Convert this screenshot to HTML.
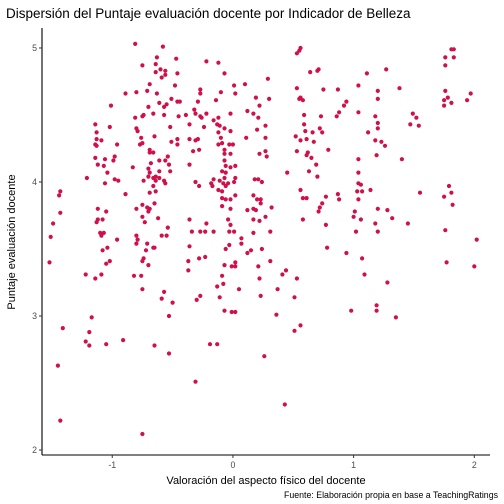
<!DOCTYPE html>
<html><head><meta charset="utf-8">
<style>
body{margin:0;background:#fff;}
svg{display:block;font-family:"Liberation Sans",sans-serif;}
</style></head>
<body>
<svg id="chart" width="504" height="504" viewBox="0 0 504 504">
<rect width="504" height="504" fill="#fff"/>
<text x="6" y="18" font-size="13.5" fill="#000">Dispersión del Puntaje evaluación docente por Indicador de Belleza</text>
<text transform="translate(15,242) rotate(-90)" text-anchor="middle" font-size="11" fill="#000">Puntaje evaluación docente</text>
<text x="266" y="484" text-anchor="middle" font-size="11" fill="#000">Valoración del aspecto físico del docente</text>
<text x="498" y="498" text-anchor="end" font-size="8.8" fill="#000">Fuente: Elaboración propia en base a TeachingRatings</text>
<g id="points"></g>
<g id="axes"></g>
</svg>
<script>
const xTicks=[-1,0,1,2];
const yTicks=[2,3,4,5];
const xTickLabels=["-1","0","1","2"];
const yTickLabels=["2","3","4","5"];
const beauty=[-0.81,-0.58,-0.63,-0.47,-0.75,-0.64,-0.60,-0.56,-0.64,-0.56,-0.46,-0.59,-0.22,-0.12,-0.07,-0.69,-0.48,-0.89,-0.80,-0.71,-0.63,-0.27,-0.27,-0.10,0.01,0.10,0.02,0.19,-1.01,-0.51,-0.61,-0.55,-0.57,-0.70,-0.46,-0.44,-0.29,-0.14,-0.32,-0.31,-0.22,-0.27,-0.26,-0.39,-0.45,-0.57,-0.66,-0.74,-0.75,-0.81,-0.02,-0.12,-0.16,0.12,0.17,0.22,0.21,-1.14,-1.02,-1.13,-0.80,-0.79,-0.52,-0.36,-0.24,-0.13,-0.11,-0.07,-0.02,-0.12,0.20,-1.13,-1.09,-0.76,-0.65,-0.46,-0.51,-0.46,-0.36,-0.31,-0.29,-0.10,0.11,-1.14,-1.13,-0.96,-0.77,-0.75,-0.12,-0.09,-0.03,0.00,-0.69,-0.69,-0.66,-0.33,-0.28,-0.07,-0.07,-0.02,0.22,-1.14,-1.06,-0.99,-0.98,-0.61,-0.56,-0.54,-0.07,-0.06,-1.12,-1.07,-0.83,-0.68,-0.53,-0.36,-0.02,0.02,-1.04,-0.70,-0.69,-0.61,-0.52,-0.09,-0.06,-1.21,-1.06,-0.98,-0.95,-0.74,-0.70,-0.66,-0.64,-0.61,-0.64,-0.57,-0.56,-0.66,-0.31,-0.28,-0.18,-0.17,-0.16,-0.11,-0.08,-0.07,-0.06,-0.04,0.01,0.02,0.18,0.21,-0.69,-0.64,-0.89,-1.44,-1.43,-0.12,-0.09,0.02,0.17,-0.09,-0.06,-0.02,0.20,-0.75,-0.71,-0.69,-0.65,-0.70,-1.12,-1.05,-0.80,-0.09,-0.02,0.12,0.17,0.19,-1.43,-0.75,-0.62,-0.36,-0.04,0.17,0.22,-1.12,-1.13,-1.08,-1.49,-0.73,-0.22,-0.02,-0.54,-1.51,-1.10,-1.09,-1.07,-0.96,-0.80,-0.79,-0.59,-0.55,-0.34,-0.27,-0.23,-0.16,-0.03,0.01,0.17,0.07,0.07,-0.80,-0.71,
0.56,0.55,0.53,1.81,1.83,1.76,1.83,1.76,0.64,0.70,0.71,1.27,1.11,0.29,0.53,0.75,0.87,1.04,1.20,1.38,1.76,1.97,0.30,0.55,0.56,0.58,1.20,1.75,1.78,1.81,1.94,1.75,0.94,0.92,0.59,0.73,0.86,0.88,1.04,1.18,1.49,1.52,0.27,0.59,1.20,1.47,1.54,0.60,0.66,0.72,0.74,1.20,1.12,0.27,0.52,0.56,0.61,0.67,1.18,1.23,1.26,0.27,0.28,0.53,0.62,0.61,0.79,0.65,1.19,1.04,1.40,0.69,0.45,0.63,0.70,1.04,0.24,1.04,1.06,0.56,1.03,1.07,1.14,0.87,1.55,1.79,1.81,1.75,0.23,0.23,0.58,0.61,0.77,0.88,1.04,1.82,0.74,0.32,0.72,0.71,1.01,1.20,1.28,0.27,0.58,1.00,1.06,1.32,0.77,1.18,1.45,0.31,1.02,1.20,1.76,2.02,
-1.08,-1.04,-0.72,-0.66,-0.65,-0.36,-0.06,-0.03,-1.52,-1.05,-1.02,-0.75,-0.74,-0.70,-0.37,-0.28,-0.23,-0.07,-0.01,0.02,0.02,0.12,0.15,0.21,-1.22,-1.14,-1.09,-0.82,-0.76,-0.37,-0.09,0.22,-0.75,-0.57,-0.08,-0.13,0.05,-0.59,-0.50,-0.30,-0.27,-0.11,-0.07,-0.01,0.02,-0.53,-1.17,-1.41,-1.19,-1.22,-1.19,-1.05,-0.91,-0.65,-0.19,-0.13,-0.53,-1.45,-0.31,-1.43,-0.75,
0.24,0.78,0.94,1.07,0.31,0.44,0.41,0.53,1.09,1.28,0.37,0.23,0.51,1.77,2.00,1.19,1.19,0.98,1.35,0.36,0.56,0.51,0.26,0.43];
const evals=[5.03,5.01,4.93,4.92,4.87,4.88,4.84,4.83,4.82,4.80,4.81,4.78,4.90,4.89,4.81,4.73,4.72,4.66,4.67,4.68,4.66,4.69,4.66,4.67,4.72,4.73,4.66,4.63,4.57,4.62,4.59,4.58,4.56,4.56,4.60,4.60,4.60,4.61,4.54,4.51,4.51,4.49,4.48,4.50,4.49,4.50,4.51,4.50,4.49,4.48,4.51,4.48,4.46,4.53,4.51,4.57,4.48,4.43,4.41,4.37,4.40,4.38,4.41,4.43,4.41,4.43,4.42,4.40,4.38,4.37,4.39,4.32,4.31,4.33,4.34,4.32,4.30,4.28,4.32,4.31,4.32,4.33,4.33,4.28,4.27,4.28,4.28,4.29,4.28,4.29,4.28,4.28,4.24,4.22,4.22,4.23,4.24,4.24,4.21,4.21,4.21,4.18,4.17,4.16,4.19,4.16,4.16,4.19,4.16,4.12,4.13,4.12,4.11,4.14,4.13,4.13,4.11,4.12,4.07,4.10,4.07,4.08,4.08,4.08,4.07,4.03,3.99,4.02,4.01,4.01,4.04,4.03,4.04,4.03,4.01,4.01,3.99,3.97,4.00,3.97,3.99,3.97,4.02,4.01,3.99,4.03,3.97,3.99,4.00,4.03,4.02,4.02,3.92,3.93,3.91,3.90,3.93,3.94,3.93,3.90,3.90,3.88,3.87,3.87,3.87,3.83,3.81,3.80,3.84,3.78,3.80,3.78,3.80,3.82,3.80,3.79,3.80,3.79,3.77,3.74,3.73,3.72,3.72,3.72,3.71,3.72,3.70,3.72,3.69,3.70,3.69,3.68,3.66,3.59,3.62,3.60,3.62,3.57,3.60,3.57,3.60,3.60,3.63,3.63,3.63,3.63,3.63,3.63,3.62,3.58,3.54,3.54,3.54,
5.00,4.98,4.96,4.99,4.99,4.93,4.93,4.87,4.82,4.83,4.84,4.84,4.81,4.77,4.70,4.69,4.69,4.72,4.68,4.70,4.68,4.66,4.62,4.62,4.63,4.61,4.62,4.61,4.63,4.59,4.61,4.57,4.60,4.57,4.50,4.49,4.49,4.52,4.52,4.49,4.51,4.48,4.42,4.43,4.44,4.43,4.42,4.38,4.37,4.40,4.37,4.40,4.37,4.33,4.34,4.31,4.32,4.30,4.31,4.30,4.27,4.23,4.19,4.23,4.22,4.20,4.24,4.18,4.20,4.17,4.17,4.13,4.07,4.08,4.04,4.07,4.00,3.99,3.98,3.94,3.93,3.93,3.94,3.91,3.92,3.97,3.92,3.89,3.87,3.84,3.88,3.88,3.89,3.87,3.87,3.83,3.84,3.81,3.81,3.78,3.78,3.80,3.79,3.74,3.72,3.74,3.72,3.73,3.68,3.69,3.69,3.63,3.63,3.63,3.64,3.57,
3.49,3.51,3.49,3.51,3.51,3.52,3.50,3.53,3.40,3.39,3.41,3.41,3.43,3.38,3.41,3.43,3.44,3.38,3.37,3.40,3.37,3.47,3.49,3.37,3.31,3.28,3.31,3.30,3.30,3.34,3.30,3.28,3.20,3.18,3.24,3.22,3.20,3.13,3.10,3.12,3.15,3.14,3.04,3.03,3.03,3.00,2.99,2.91,2.88,2.81,2.78,2.79,2.82,2.78,2.79,2.79,2.72,2.63,2.51,2.22,2.12,
3.50,3.51,3.47,3.43,3.41,3.34,3.31,3.28,3.31,3.25,3.20,3.15,3.14,3.40,3.37,3.08,3.04,3.04,2.99,3.01,2.93,2.89,2.70,2.34];

const NS="http://www.w3.org/2000/svg";
const L=42,R=490,T=28,B=455;
const xMin=-1.582,xMax=2.13,yMin=1.963,yMax=5.149;
function sx(v){return L+(v-xMin)/(xMax-xMin)*(R-L);}
function sy(v){return B-(v-yMin)/(yMax-yMin)*(B-T);}
const pts=document.getElementById('points');
const n=Math.min(beauty.length,evals.length);
for(let i=0;i<n;i++){
  const c=document.createElementNS(NS,'circle');
  c.setAttribute('cx',sx(beauty[i]).toFixed(1));
  c.setAttribute('cy',sy(evals[i]).toFixed(1));
  c.setAttribute('r','2.1');
  c.setAttribute('fill','#d10f48');
  
  
  pts.appendChild(c);
}
const ax=document.getElementById('axes');
function mk(tag,attrs){const e=document.createElementNS(NS,tag);for(const k in attrs)e.setAttribute(k,attrs[k]);ax.appendChild(e);return e;}
const xl=mk('line',{x1:L,y1:B,x2:R,y2:B,stroke:'#000','stroke-width':1.1});


const yl=mk('line',{x1:L,y1:T,x2:L,y2:B,stroke:'#000','stroke-width':1.1});


xTicks.forEach((v,i)=>{
  const t=mk('line',{x1:sx(v),y1:B,x2:sx(v),y2:B+3,stroke:'#333','stroke-width':1});
  
  
  const tx=mk('text',{x:sx(v),y:B+13,'text-anchor':'middle','font-size':'8.8',fill:'#4d4d4d'});
  tx.textContent=xTickLabels[i];
  
  
});
yTicks.forEach((v,i)=>{
  const t=mk('line',{x1:L-3,y1:sy(v),x2:L,y2:sy(v),stroke:'#333','stroke-width':1});
  
  
  const tx=mk('text',{x:L-5,y:sy(v)+3,'text-anchor':'end','font-size':'8.8',fill:'#4d4d4d'});
  tx.textContent=yTickLabels[i];
  
  
});
</script>
</body></html>
